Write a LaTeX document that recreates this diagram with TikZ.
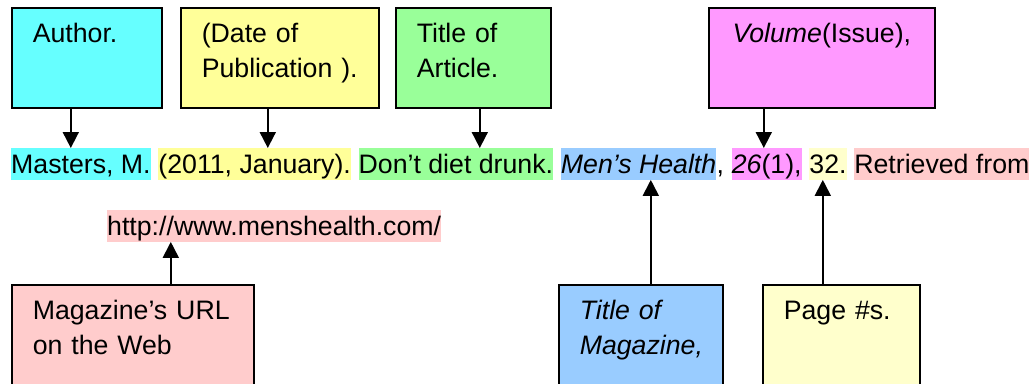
\documentclass[tikz,border=0pt]{standalone}
\usepackage{fontspec}
\setmainfont{Liberation Sans}
\usetikzlibrary{positioning,arrows.meta}
\definecolor{cian}{HTML}{66FFFF}
\definecolor{amarillo}{HTML}{FFFF99}
\definecolor{verde}{HTML}{99FF99}
\definecolor{lila}{HTML}{FF99FF}
\definecolor{azul}{HTML}{99CCFF}
\definecolor{crema}{HTML}{FFFFCC}
\definecolor{rosa}{HTML}{FFCCCC}

\begin{document}
\begin{tikzpicture}[x=1pt,y=-1pt,
  font=\fontsize{26.7}{35}\selectfont,
  caja/.style={draw, line width=1.6pt, anchor=north west, align=left,
    inner xsep=21pt, inner ysep=16pt, text height=19pt, text depth=49pt},
  resalte/.style={inner sep=0pt, text height=25pt, text depth=6.5pt},
  flecha/.style={line width=1.8pt, -{Triangle[width=16pt,length=16pt]}}]

  \useasboundingbox (0,0) rectangle (1031,383);
  \clip (0,0) rectangle (1031,383);

  % Cajas de arriba
  \node[caja, fill=cian, text width=108pt] (autor) at (11,7) {Author.};
  \node[caja, fill=amarillo, text width=156pt] (fecha) at (180,7) {(Date of\\Publication ).};
  \node[caja, fill=verde, text width=113pt] (titulo) at (395,7) {Title of\\Article.};
  \node[caja, fill=lila, text width=184pt, align=center] (volumen) at (708,7) {\textit{Volume}(Issue),};

  % La referencia
  \node[resalte, fill=cian, anchor=north west] (masters) at (11,148) {Masters, M.};
  \node[resalte, fill=amarillo, right=7.4pt of masters] (anio) {(2011, January).};
  \node[resalte, fill=verde, right=7.4pt of anio] (articulo) {Don’t diet drunk.};
  \node[resalte, fill=azul, right=7.4pt of articulo] (revista) {\textit{Men’s Health}};
  \node[resalte, right=0pt of revista] (coma) {,};
  \node[resalte, fill=lila, right=7.4pt of coma] (numero) {\textit{26}(1),};
  \node[resalte, fill=crema, right=7.4pt of numero] (paginas) {32.};
  \node[resalte, fill=rosa, right=7.4pt of paginas] (recuperado) {Retrieved from};
  \node[resalte, fill=rosa, anchor=north west] (url) at (107,210) {http://www.menshealth.com/};

  % Cajas de abajo
  \node[caja, fill=rosa, text width=200pt] (web) at (11,284) {Magazine’s URL\\on the Web};
  \node[caja, fill=azul, text width=122pt] (nombre) at (558,284) {\textit{Title of}\\\textit{Magazine,}};
  \node[caja, fill=crema, text width=115pt] (pag) at (762,284) {Page \#s.};

  % Flechas hacia abajo
  \foreach \caja/\dx/\texto in {autor/-16/masters, fecha/-12/anio,
      titulo/6.5/articulo, volumen/-58/numero}{
    \coordinate (f) at ([xshift=\dx pt]\caja.south);
    \draw[flecha] (f) -- (f |- \texto.north);
  }

  % Flechas hacia arriba
  \foreach \caja/\dx/\texto in {web/38/url, nombre/10/revista, pag/-18.5/paginas}{
    \coordinate (f) at ([xshift=\dx pt]\caja.north);
    \draw[flecha] (f) -- (f |- \texto.south);
  }

\end{tikzpicture}
\end{document}
